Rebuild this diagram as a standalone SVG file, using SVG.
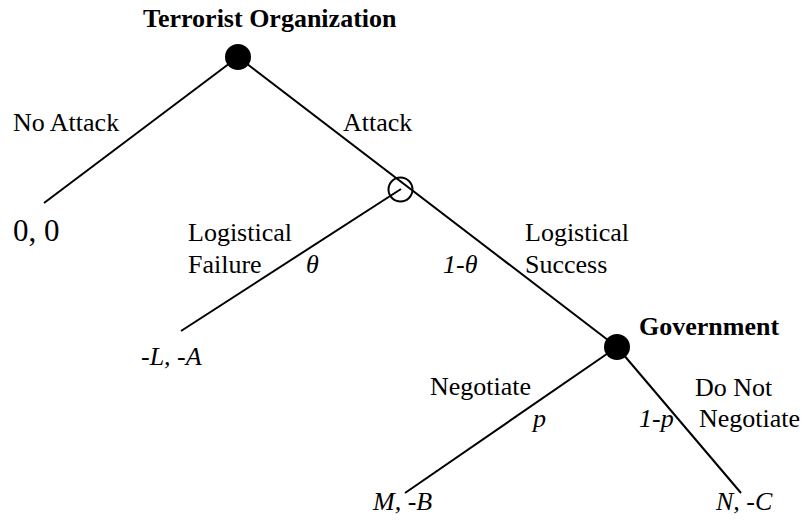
<svg xmlns="http://www.w3.org/2000/svg" width="809" height="527" viewBox="0 0 809 527">
<style>
text{font-family:'Liberation Serif','Times New Roman','DejaVu Serif',serif;font-size:26px;fill:#000}
.b{font-weight:bold}
.i{font-style:italic}
.e{stroke:#000;stroke-width:2;fill:none}
</style>
<rect width="809" height="527" fill="#fff"/>
<g id="edges">
<line class="e" x1="44" y1="203" x2="238" y2="57"/>
<line class="e" x1="238" y1="57" x2="617" y2="347"/>
<line class="e" x1="181" y1="331" x2="401" y2="189"/>
<line class="e" x1="405" y1="493" x2="617" y2="347"/>
<line class="e" x1="617" y1="347" x2="741" y2="493"/>
<text x="13" y="131">No Attack</text>
<text x="343" y="131">Attack</text>
<text x="188" y="241">Logistical</text>
<text x="188" y="273">Failure</text>
<text class="i" x="306" y="273">θ</text>
<text class="i" x="443" y="273">1-θ</text>
<text x="525" y="241">Logistical</text>
<text x="525" y="273">Success</text>
<text x="430" y="395">Negotiate</text>
<text class="i" x="533" y="427">p</text>
<text class="i" x="639" y="427">1-p</text>
<text x="695" y="396">Do Not</text>
<text x="699" y="427">Negotiate</text>
</g>
<g id="terrorist">
<circle cx="238" cy="57" r="13" fill="#000"/>
<text class="b" x="143" y="27">Terrorist Organization</text>
</g>
<g id="nature">
<circle cx="400.5" cy="189.5" r="12" fill="none" stroke="#000" stroke-width="2"/>
</g>
<g id="government">
<circle cx="617" cy="347" r="13" fill="#000"/>
<text class="b" x="639" y="335">Government</text>
</g>
<g id="payoff-none"><text x="13" y="241" style="font-size:31px">0, 0</text></g>
<g id="payoff-fail"><text class="i" x="141" y="365">-L, -A</text></g>
<g id="payoff-neg"><text class="i" x="373" y="510">M, -B</text></g>
<g id="payoff-noneg"><text class="i" x="716" y="510">N, -C</text></g>
</svg>
